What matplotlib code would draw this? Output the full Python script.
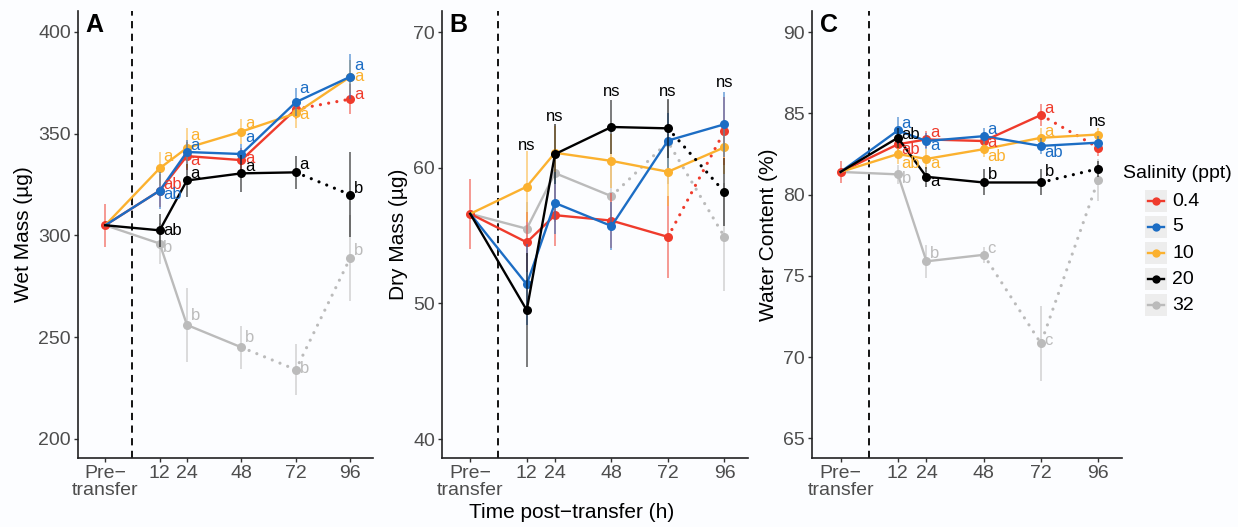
import numpy as np
import matplotlib.pyplot as plt
from matplotlib.patches import Rectangle
from matplotlib.lines import Line2D

plt.rcParams['font.family'] = ['Liberation Sans', 'DejaVu Sans']

# time axis: pre-transfer drawn at -12 h, transfer at 0 h
times = [-12, 12, 24, 48, 72, 96]
time_labels = ['Pre\u2212\ntransfer', '12', '24', '48', '72', '96']
salinity = ['0.4', '5', '10', '20', '32']
colors = ['#EF3B2C', '#1C6DC4', '#FBB12F', '#000000', '#BBBBBB']
dotted_from = [4, None, None, 4, 3]   # index where the line turns dotted

# A: wet mass (ug), one row per salinity (pre-transfer value shared)
wet_mean = [[305, 322, 339, 337, 362, 367],
            [305, 322, 341, 340, 365.5, 378],
            [305, 333, 343, 351, 360, 378],
            [305, 302.5, 327, 330.5, 331, 320],
            [305, 296, 256, 245, 234, 289]]
wet_se = [[10.5, 8, 7, 6, 5, 7.5],
          [10, 9, 6, 5, 7, 11],
          [10, 8, 10, 6, 7, 8],
          [10, 8, 8, 9, 8, 21],
          [10, 10, 18, 10.5, 12.5, 21]]
wet_letters = [['', 'ab', 'a', 'a', '', 'a'],
               ['', 'ab', 'a', 'a', 'a', 'a'],
               ['', 'a', 'a', 'a', 'a', 'a'],
               ['', 'ab', 'a', 'a', 'a', 'b'],
               ['', 'b', 'b', 'b', 'b', 'b']]
wet_lab_y = [[0, 325, 337, 338, 0, 369.5],
             [0, 320, 344, 348, 372, 383.7],
             [0, 339, 349, 355, 359.6, 378],
             [0, 302.5, 330.5, 334, 335, 323],
             [0, 294, 260.6, 249.7, 234.5, 292.6]]

# B: dry mass (ug)
dry_mean = [[56.6, 54.5, 56.5, 56.1, 54.9, 62.7],
            [56.6, 51.4, 57.4, 55.7, 62.0, 63.2],
            [56.6, 58.6, 61.1, 60.5, 59.7, 61.5],
            [56.6, 49.5, 61.0, 63.0, 62.9, 58.2],
            [56.6, 55.5, 59.6, 57.9, 61.9, 54.9]]
dry_se = [[2.6, 2.2, 2.3, 2.0, 3.0, 2.5],
          [2.6, 3.0, 2.3, 1.8, 2.0, 2.4],
          [2.6, 2.6, 2.0, 2.0, 2.5, 2.0],
          [2.6, 4.2, 2.2, 2.0, 2.2, 2.5],
          [2.6, 2.0, 3.6, 2.5, 3.1, 4.0]]
dry_ns_y = [61.6, 63.8, 65.6, 65.6, 66.3]

# C: water content (%)
wc_mean = [[81.4, 83.1, 83.4, 83.3, 84.9, 82.9],
           [81.4, 83.95, 83.3, 83.6, 83.0, 83.2],
           [81.4, 82.5, 82.2, 82.8, 83.5, 83.7],
           [81.4, 83.5, 81.1, 80.75, 80.75, 81.6],
           [81.4, 81.25, 75.9, 76.3, 70.85, 80.9]]
wc_se = [[0.7, 0.6, 0.5, 0.5, 0.7, 0.5],
         [0.7, 0.85, 0.5, 0.5, 0.5, 0.4],
         [0.7, 0.6, 0.6, 0.5, 0.6, 0.4],
         [0.7, 0.6, 0.6, 0.8, 0.8, 0.5],
         [0.7, 0.6, 1.0, 0.5, 2.3, 1.3]]
wc_letters = [['', 'ab', 'a', 'a', 'a', ''],
              ['', 'a', 'a', 'a', 'ab', ''],
              ['', 'ab', 'a', 'ab', 'a', ''],
              ['', 'ab', 'a', 'b', 'b', ''],
              ['', 'b', 'b', 'c', 'c', '']]
wc_lab_y = [[0, 82.8, 83.8, 83.2, 85.3, 0],
            [0, 84.4, 83.0, 84.0, 82.6, 0],
            [0, 81.9, 81.9, 82.35, 83.9, 0],
            [0, 83.7, 80.8, 81.25, 81.4, 0],
            [0, 81.0, 76.4, 76.7, 71.0, 0]]
wc_ns_y = 84.5

bg = '#FCFDFF'
tick_col = '#4D4D4D'
draw_order = [4, 0, 2, 1, 3]   # back to front

fig = plt.figure(figsize=(12.38, 5.27), dpi=100, facecolor=bg)
W, H = 1238, 527
def px_axes(l, r, t, b):
    return fig.add_axes([l / W, 1 - b / H, (r - l) / W, (b - t) / H])

axA = px_axes(78, 373, 11, 458)
axB = px_axes(442, 748, 11, 458)
axC = px_axes(812, 1122, 11, 458)

def draw_panel(ax, means, ses, ylim, yticks, ylabel, letter):
    ax.set_facecolor(bg)
    ax.axvline(0, color='black', lw=1.3, ls=(0, (4, 3)), zorder=1)
    for rank, i in enumerate(draw_order):
        m = np.array(means[i])
        s = np.array(ses[i])
        c = colors[i]
        z = 2 + rank * 3
        # pre-transfer fish were held at 0.4 ppt: only that group marks it
        st = 0 if i == 0 else 1
        ax.vlines(times[st:], (m - s)[st:], (m + s)[st:], color=c, lw=1.1,
                  alpha=0.65, zorder=z)
        k = dotted_from[i]
        if k is None:
            ax.plot(times, m, color=c, lw=1.7, zorder=z + 1)
        else:
            ax.plot(times[:k + 1], m[:k + 1], color=c, lw=1.7, zorder=z + 1)
            ax.plot(times[k:], m[k:], color=c, lw=2.3, ls=(0, (0.01, 2.6)),
                    dash_capstyle='round', zorder=z + 1)
        ax.plot(times[st:], m[st:], 'o', color=c, ms=6.5, mec='none', zorder=z + 2)
    ax.set_xlim(-24, 106)
    ax.set_ylim(*ylim)
    ax.set_xticks(times)
    ax.set_xticklabels(time_labels, linespacing=1.0)
    ax.set_yticks(yticks)
    ax.set_ylabel(ylabel, fontsize=15, color='black', labelpad=4)
    for side in ['top', 'right']:
        ax.spines[side].set_visible(False)
    for side in ['left', 'bottom']:
        ax.spines[side].set_linewidth(1.2)
        ax.spines[side].set_color('#222222')
    ax.tick_params(length=3, width=1, color='#333333', labelcolor=tick_col,
                   labelsize=14, pad=2)
    ax.text(0.025, 0.995, letter, transform=ax.transAxes, fontsize=18,
            fontweight='bold', ha='left', va='top')

def draw_letters(ax, letters, lab_y):
    for i in range(len(salinity)):
        for j, t in enumerate(times):
            if letters[i][j]:
                ax.text(t + 1.6, lab_y[i][j], letters[i][j], color=colors[i],
                        fontsize=12, ha='left', va='center', zorder=30)

draw_panel(axA, wet_mean, wet_se, (190.6, 410.3), [200, 250, 300, 350, 400],
           'Wet Mass (\u00b5g)', 'A')
draw_letters(axA, wet_letters, wet_lab_y)

draw_panel(axB, dry_mean, dry_se, (38.6, 71.55), [40, 50, 60, 70],
           'Dry Mass (\u00b5g)', 'B')
for t, y in zip(times[1:], dry_ns_y):
    axB.text(t, y, 'ns', fontsize=12, ha='center', va='center', zorder=30)

draw_panel(axC, wc_mean, wc_se, (63.8, 91.3), [65, 70, 75, 80, 85, 90],
           'Water Content (%)', 'C')
draw_letters(axC, wc_letters, wc_lab_y)
axC.text(96, wc_ns_y, 'ns', fontsize=12, ha='center', va='center', zorder=30)

fig.text(572 / W, 1 - 512 / H, 'Time post\u2212transfer (h)', fontsize=15,
         ha='center', va='center')

# legend
fig.text(1123 / W, 1 - 173 / H, 'Salinity (ppt)', fontsize=14,
         ha='left', va='center')
for i, (lab, c) in enumerate(zip(salinity, colors)):
    yc = 201 + i * 26
    fig.add_artist(Rectangle((1145 / W, 1 - (yc + 11) / H), 22 / W, 22 / H,
                             transform=fig.transFigure, facecolor='#EDEDED',
                             edgecolor='none'))
    fig.add_artist(Line2D([1148 / W, 1164 / W], [1 - yc / H, 1 - yc / H],
                          transform=fig.transFigure, color=c, lw=1.7))
    fig.add_artist(Line2D([1156 / W], [1 - yc / H], transform=fig.transFigure,
                          marker='o', ms=6, color=c, mec='none'))
    fig.text(1172 / W, 1 - yc / H, lab, fontsize=14, ha='left', va='center')

fig.savefig('out.png', dpi=100, facecolor=bg)
